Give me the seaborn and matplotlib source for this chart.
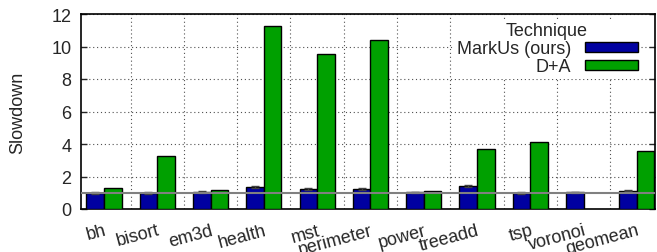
import numpy as np
import pandas as pd
import seaborn as sns
import matplotlib.pyplot as plt
from matplotlib.ticker import MultipleLocator

# --- Data ---
benchmarks = ['bh', 'bisort', 'em3d', 'health', 'mst', 'perimeter',
              'power', 'treeadd', 'tsp', 'voronoi', 'geomean']
markus = [0.98, 1.00, 1.05, 1.35, 1.23, 1.23, 1.02, 1.40, 0.98, 1.02, 1.13]
markus_err = [0.05, 0.05, 0.05, 0.06, 0.06, 0.05, 0.05, 0.06, 0.05, 0.05, 0.04]
dplusa = [1.27, 3.24, 1.15, 11.24, 9.52, 10.42, 1.08, 3.67, 4.10, np.nan, 3.55]
techniques = ['MarkUs (ours)', 'D+A']
colors = ['#0000a0', '#00a000']

df = pd.DataFrame({
    'benchmark': benchmarks * 2,
    'Technique': [techniques[0]] * len(benchmarks) + [techniques[1]] * len(benchmarks),
    'slowdown': markus + dplusa,
})

sns.set_theme(style='white')
plt.rcParams['font.family'] = ['Liberation Sans', 'DejaVu Sans']
plt.rcParams['font.size'] = 13

fig = plt.figure(figsize=(6.57, 2.53), dpi=100)
ax = fig.add_axes([81 / 657, 1 - 210 / 253, 574 / 657, 195 / 253])

sns.barplot(data=df, x='benchmark', y='slowdown', hue='Technique',
            palette=colors, width=0.66, errorbar=None, saturation=1,
            edgecolor='black', linewidth=1, ax=ax, zorder=3)

# error bars on the MarkUs bars
blue_bars = [p for p in ax.patches if p.get_height() > 0][:len(benchmarks)]
xs = [p.get_x() + p.get_width() / 2 for p in blue_bars]
ax.errorbar(xs, markus, yerr=markus_err, fmt='none', ecolor='#404040',
            elinewidth=1, capsize=3, capthick=1, zorder=4)

# baseline at 1x
ax.axhline(1, color='#808080', linewidth=1.5, zorder=5)

ax.set_xlim(-0.43, 10.34)
ax.set_ylim(0, 12)
ax.yaxis.set_major_locator(MultipleLocator(2))
ax.xaxis.set_minor_locator(MultipleLocator(1, offset=0.5))
ax.grid(axis='y', which='major', linestyle=(0, (1, 2.5)), color='#505050', linewidth=0.8, zorder=0)
ax.grid(axis='x', which='minor', linestyle=(0, (1, 2.5)), color='#505050', linewidth=0.8, zorder=0)
ax.grid(axis='x', which='major', visible=False)
ax.set_axisbelow(True)

for s in ax.spines.values():
    s.set_color('black')
    s.set_linewidth(1.2)

ax.tick_params(axis='x', which='major', direction='out', length=5, width=1, color='#404040', pad=4, labelsize=13)
ax.tick_params(axis='x', which='minor', length=0)
ax.tick_params(axis='y', direction='in', length=4, width=1, left=True, right=True, labelsize=13, pad=7)
for lbl in ax.get_xticklabels():
    lbl.set_rotation(15)
    lbl.set_ha('right')
    lbl.set_va('top')
    lbl.set_rotation_mode('anchor')

ax.set_xlabel('')
ax.set_ylabel('Slowdown', fontsize=13, labelpad=18)

leg = ax.legend(title='Technique', loc='upper right', bbox_to_anchor=(0.976, 0.975),
                markerfirst=False, frameon=True, framealpha=1, edgecolor='none',
                facecolor='white', fancybox=False, fontsize=13, title_fontsize=13,
                handlelength=2.9, handleheight=0.5, handletextpad=0.8,
                labelspacing=0.05, borderpad=0.2, borderaxespad=0)
leg.set_zorder(6)

fig.savefig('out.png', dpi=100)
